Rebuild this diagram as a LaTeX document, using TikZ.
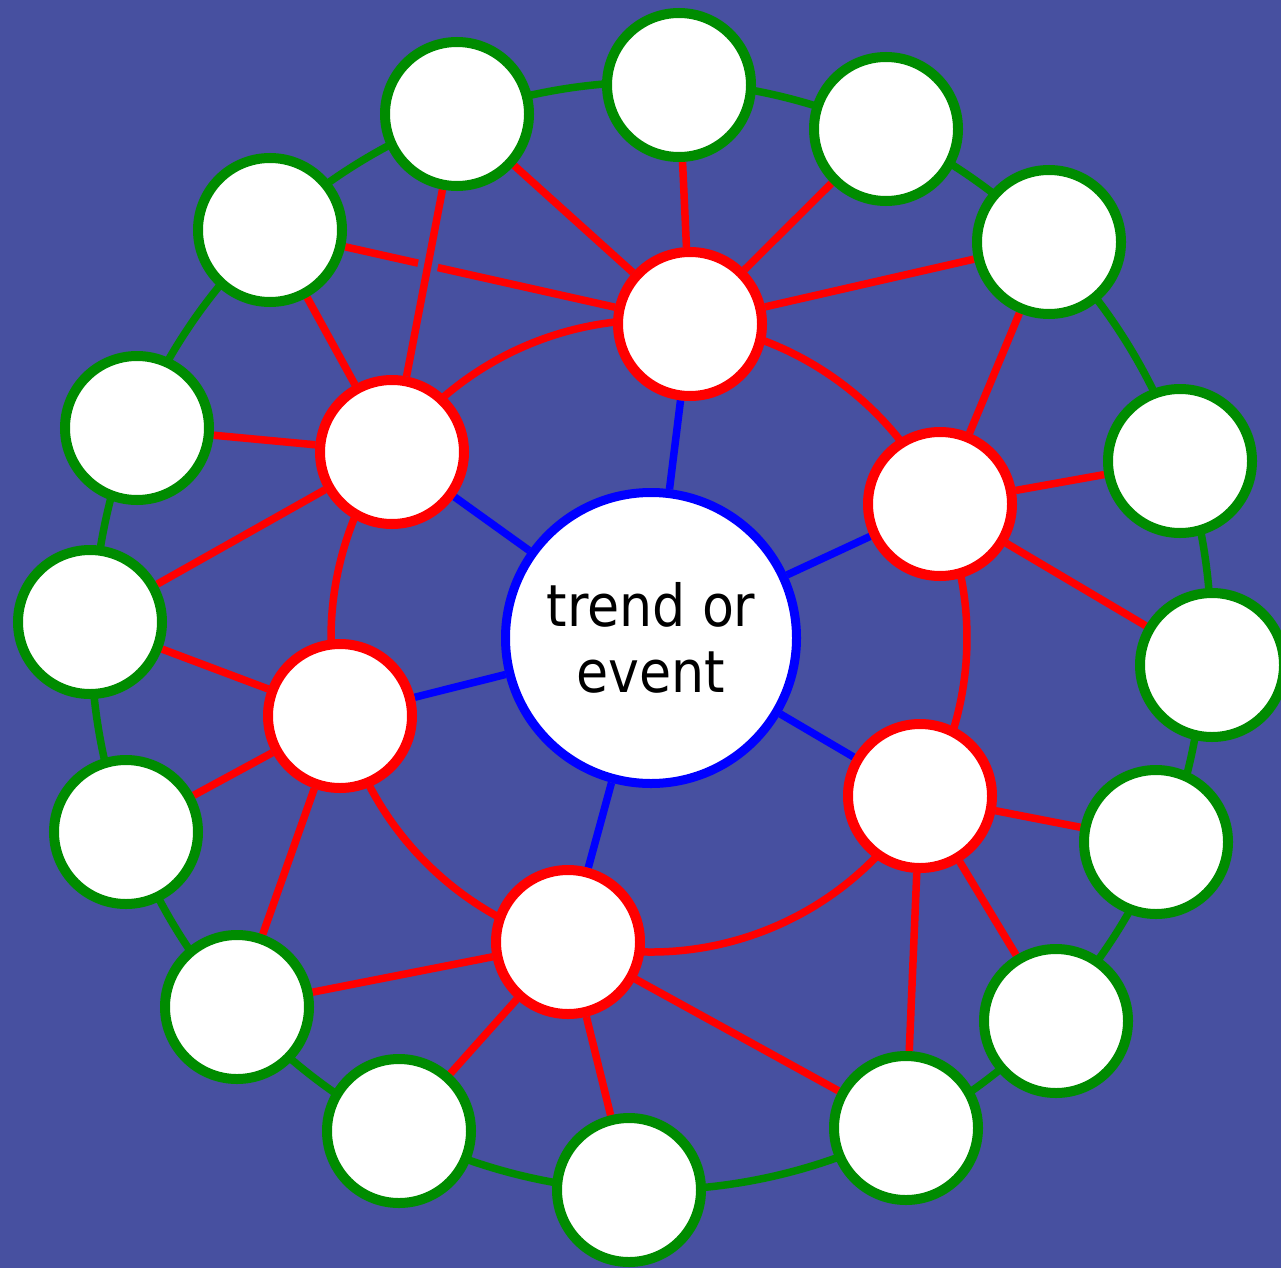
\documentclass[tikz,border=0pt]{standalone}
\usepackage{fontspec}
\newfontfamily\condfont{DejaVu Sans Condensed}
\definecolor{bg}{RGB}{71,80,160}
\definecolor{ringgreen}{RGB}{0,140,0}
\pgfdeclarelayer{bgfill}
\pgfdeclarelayer{edges}
\pgfsetlayers{bgfill,edges,main}
\begin{document}
\begin{tikzpicture}[x=1pt,y=1pt,
  gnode/.style={circle, draw=ringgreen, fill=white, line width=10pt, minimum size=144pt, inner sep=0pt},
  rnode/.style={circle, draw=red, fill=white, line width=10pt, minimum size=144pt, inner sep=0pt},
  cnode/.style={circle, draw=blue, fill=white, line width=9pt, minimum size=291pt, inner sep=0pt, align=center, text=black, font=\condfont\fontsize{58}{66}\selectfont},
  gedge/.style={draw=ringgreen, line width=7.5pt},
  redge/.style={draw=red, line width=7.5pt},
  rarc/.style={draw=red, line width=7.5pt},
  bedge/.style={draw=blue, line width=7.5pt},
  bridge/.style={preaction={draw=bg, line width=20pt}}
]
\useasboundingbox (0,-1268) rectangle (1281,0);
\begin{pgfonlayer}{bgfill}
\fill[bg] (0,-1268) rectangle (1281,0);
\end{pgfonlayer}

% centre and red nodes
\node[cnode] (C) at (651,-638) {trend or\\event};
\node[rnode] (R1) at (690,-324) {};
\node[rnode] (R2) at (392,-452) {};
\node[rnode] (R3) at (940,-504) {};
\node[rnode] (R4) at (340,-716) {};
\node[rnode] (R5) at (920,-796) {};
\node[rnode] (R6) at (568,-942) {};

% green nodes
\node[gnode] (G1) at (679,-85) {};
\node[gnode] (G2) at (457,-114) {};
\node[gnode] (G3) at (886,-129) {};
\node[gnode] (G4) at (270,-230) {};
\node[gnode] (G5) at (1049,-242) {};
\node[gnode] (G6) at (137,-428) {};
\node[gnode] (G7) at (1180,-461) {};
\node[gnode] (G8) at (90,-622) {};
\node[gnode] (G9) at (1212,-665) {};
\node[gnode] (G10) at (126,-832) {};
\node[gnode] (G11) at (1156,-842) {};
\node[gnode] (G12) at (237,-1007) {};
\node[gnode] (G13) at (1056,-1021) {};
\node[gnode] (G14) at (399,-1131) {};
\node[gnode] (G15) at (906,-1128) {};
\node[gnode] (G16) at (629,-1190) {};

\begin{pgfonlayer}{edges}
% outer green ring: arcs round the centre node, from one green node to the next
\foreach \s/\e/\r in {-2.8/18.5/560, 18.5/44.9/560, 44.9/65.2/561, 65.2/87.1/557,
  87.1/110.3/556, 110.3/133.0/558, 133.0/157.8/557, 157.8/178.4/558,
  178.4/200.3/560, 200.3/221.7/557, 221.7/242.9/554, 242.9/267.7/553,
  267.7/297.5/552, 297.5/316.6/555, 316.6/338.0/551, 338.0/357.2/553}
  \draw[gedge] (C.center) ++(\s:\r) arc[start angle=\s, end angle=\e, radius=\r];

% inner red ring: arcs round the centre node, from one red node to the next
\foreach \s/\e/\r in {25.0/82.9/318, 82.9/144.3/318, 144.3/194.1/320,
  194.1/254.7/318, 254.7/329.6/314, -30.4/25.0/316}
  \draw[rarc] (C.center) ++(\s:\r) arc[start angle=\s, end angle=\e, radius=\r];

% red spokes
\foreach \a/\b in {R1/G1, R1/G2, R1/G3, R1/G4, R1/G5,
  R2/G4, R2/G6, R2/G8,
  R3/G5, R3/G7, R3/G9,
  R4/G8, R4/G10, R4/G12,
  R5/G11, R5/G13, R5/G15,
  R6/G12, R6/G14, R6/G16, R6/G15}
  \draw[redge] (\a) -- (\b);
% the one spoke that crosses over another
\draw[redge, bridge] (G2) -- (R2);

% blue spokes
\foreach \b in {R1,R2,R3,R4,R5,R6}
  \draw[bedge] (C) -- (\b);
\end{pgfonlayer}
\end{tikzpicture}
\end{document}
